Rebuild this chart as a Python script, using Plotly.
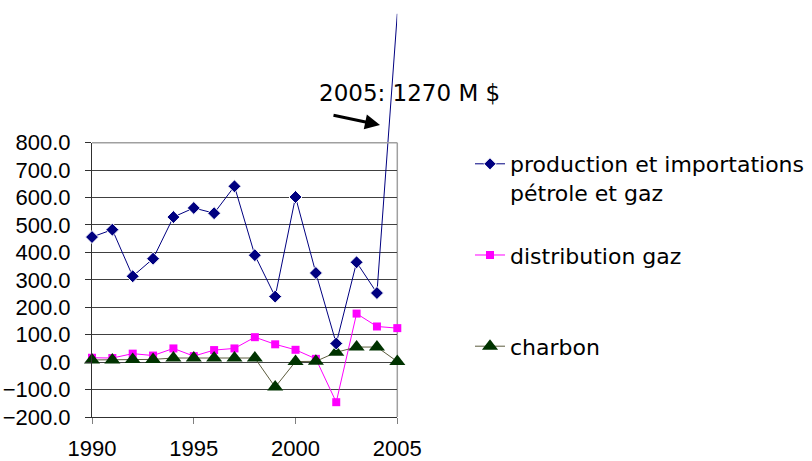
import plotly.graph_objects as go

years = list(range(1990, 2006))
production = [456, 483, 313, 377, 529, 562, 543, 641, 390, 239, 602, 325, 68, 364, 252, 1270]
distribution = [16, 15, 31, 24, 50, 22, 44, 50, 91, 65, 45, 12, -146, 177, 130, 124]
charbon = [8, 8, 10, 10, 15, 15, 15, 15, 15, -91, 2, 3, 36, 55, 55, 2]

y_ticks = [-200, -100, 0, 100, 200, 300, 400, 500, 600, 700, 800]
x_ticks = [1990, 1995, 2000, 2005]
note_text = "2005: 1270 M $"

W, H = 812, 461
L, R, T, B = 92, 0, 0, 44
plot_w, plot_h = W - L - R, H - T - B
x_dom = (397.3 - L) / plot_w
y_top_frac = (H - B - 142.7) / plot_h
y_lo, y_hi = -200, 800
y2_hi = y_lo + (y_hi - y_lo) / y_top_frac

# the off-scale 2005 point is shown only by its line segment
prod_sizes = [10] * (len(years) - 1) + [0]

fig = go.Figure()

fig.add_trace(go.Scatter(
    x=years, y=production, yaxis="y2", mode="lines+markers",
    name="production et importations<br>pétrole et gaz", legendgroup="a",
    line=dict(color="#000080", width=1),
    marker=dict(symbol="diamond", size=prod_sizes, color="#000080", opacity=1),
    cliponaxis=False,
))
fig.add_trace(go.Scatter(
    x=years, y=distribution, mode="lines+markers",
    name="distribution gaz<br> ", legendgroup="b",
    line=dict(color="#ff00ff", width=1),
    marker=dict(symbol="square", size=8, color="#ff00ff"),
    cliponaxis=False,
))
fig.add_trace(go.Scatter(
    x=years, y=charbon, mode="lines+markers",
    name="charbon", legendgroup="c",
    line=dict(color="#5c5c3d", width=1),
    marker=dict(symbol="triangle-up", size=14, color="#003300"),
    cliponaxis=False,
))

fig.update_layout(
    width=W, height=H,
    margin=dict(l=L, r=R, t=T, b=B, autoexpand=False),
    paper_bgcolor="white", plot_bgcolor="rgba(0,0,0,0)",
    font=dict(family="Liberation Sans, Arial, sans-serif", size=21, color="black"),
    showlegend=True,
    legend=dict(
        x=(470 - L) / plot_w, xanchor="left",
        y=(H - B - 143) / plot_h, yanchor="top",
        font=dict(family="DejaVu Sans, Verdana, sans-serif", size=22, color="black"),
        valign="top", tracegroupgap=31, traceorder="grouped",
        bgcolor="rgba(0,0,0,0)",
    ),
    xaxis=dict(
        domain=[0, x_dom], range=[1990, 2005], anchor="y", automargin=False,
        tickvals=x_ticks, ticks="outside", ticklen=6, tickcolor="#808080",
        ticklabelstandoff=6, tickfont=dict(size=22),
        showgrid=False, zeroline=False,
        showline=True, linecolor="#303030", linewidth=1,
    ),
    yaxis=dict(
        domain=[0, y_top_frac], range=[y_lo, y_hi], anchor="x", automargin=False,
        tickvals=y_ticks, tickformat=".1f", ticks="outside", ticklen=6,
        tickcolor="#303030", ticklabelstandoff=10, tickfont=dict(size=22),
        showgrid=True, gridcolor="#404040", gridwidth=1,
        zeroline=False,
        showline=True, linecolor="#303030", linewidth=1,
    ),
    yaxis2=dict(
        domain=[0, 1], range=[y_lo, y2_hi], anchor="x", automargin=False,
        visible=False, showgrid=False, zeroline=False,
    ),
    shapes=[
        dict(type="line", xref="x domain", yref="y domain", x0=0, x1=1, y0=1, y1=1,
             line=dict(color="#a0a0a0", width=1.5), layer="above"),
        dict(type="line", xref="x domain", yref="y domain", x0=1, x1=1, y0=0, y1=1,
             line=dict(color="#a0a0a0", width=1.5), layer="below"),
    ],
    annotations=[
        dict(text=note_text, xref="paper", yref="paper",
             x=(317 - L) / plot_w, xanchor="left",
             y=(H - B - 93) / plot_h, yanchor="middle",
             showarrow=False,
             font=dict(family="DejaVu Sans, Verdana, sans-serif", size=23, color="black")),
        dict(text="", xref="paper", yref="paper",
             x=(380 - L) / plot_w, y=(H - B - 125) / plot_h,
             ax=-48, ay=-10, axref="pixel", ayref="pixel",
             showarrow=True, arrowhead=2, arrowsize=1, arrowwidth=3, arrowcolor="black"),
    ],
)

fig.write_html("out.html")
